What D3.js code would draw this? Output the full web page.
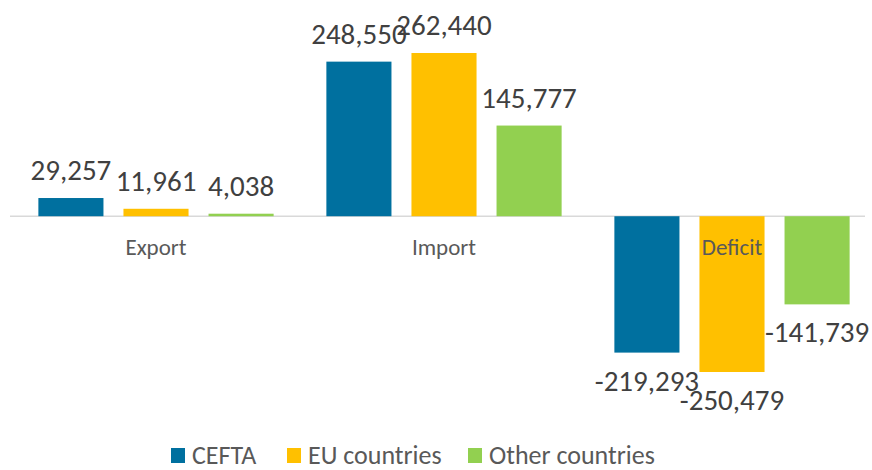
<!DOCTYPE html>
<html>
<head>
<meta charset="utf-8">
<script src="https://cdn.jsdelivr.net/npm/d3@7"></script>
<style>
  body { margin: 0; background: #fff; }
  svg text { font-family: Carlito, "Open Sans", sans-serif; }
</style>
</head>
<body>
<svg></svg>
<script>
const categories = ["Export", "Import", "Deficit"]
const seriesNames = ["CEFTA", "EU countries", "Other countries"]
const ceftaValues = [29257, 248550, -219293]
const euValues = [11961, 262440, -250479]
const otherValues = [4038, 145777, -141739]
const colors = ["#00709f", "#ffc000", "#92d050"]

const seriesValues = [ceftaValues, euValues, otherValues]
const rows = categories.map((c, i) => {
  return { category: c, values: seriesNames.map((s, j) => ({ series: s, value: seriesValues[j][i], color: colors[j] })) }
})

const svg = d3.select("svg")
  .attr("width", 872)
  .attr("height", 470)

const x0 = d3.scaleBand()
  .domain(categories)
  .range([12, 876])

const x1 = d3.scaleBand()
  .domain(seriesNames)
  .range([0, x0.bandwidth()])
  .paddingInner(0.235)
  .paddingOuter(0.31)

const y = d3.scaleLinear()
  .domain([-250479, 262440])
  .range([372, 53])

// zero line
svg.append("line")
  .attr("x1", 10)
  .attr("x2", 865)
  .attr("y1", y(0))
  .attr("y2", y(0))
  .attr("stroke", "#d9d9d9")
  .attr("stroke-width", 1.5)

const groups = svg.selectAll("g.group")
  .data(rows)
  .join("g")
  .attr("class", "group")
  .attr("transform", d => `translate(${x0(d.category)},0)`)

groups.selectAll("rect")
  .data(d => d.values)
  .join("rect")
  .attr("x", d => x1(d.series))
  .attr("width", x1.bandwidth())
  .attr("y", d => y(Math.max(0, d.value)))
  .attr("height", d => Math.abs(y(d.value) - y(0)))
  .attr("fill", d => d.color)

// category labels
svg.selectAll("text.cat")
  .data(categories)
  .join("text")
  .attr("class", "cat")
  .attr("x", d => x0(d) + x0.bandwidth() / 2)
  .attr("y", y(0) + 39)
  .attr("text-anchor", "middle")
  .attr("fill", "#595959")
  .attr("font-size", 23)
  .text(d => d)

const fmt = v => d3.format(",")(v).replace("\u2212", "-")

groups.selectAll("text.val")
  .data(d => d.values)
  .join("text")
  .attr("class", "val")
  .attr("x", d => x1(d.series) + x1.bandwidth() / 2)
  .attr("y", d => d.value >= 0 ? y(d.value) - 18 : y(d.value) + 38)
  .attr("text-anchor", "middle")
  .attr("fill", "#404040")
  .attr("font-size", 29)
  .text(d => fmt(d.value))

// legend
const legendX = [171, 287, 468]
const legend = svg.selectAll("g.legend")
  .data(seriesNames)
  .join("g")
  .attr("class", "legend")
  .attr("transform", (d, i) => `translate(${legendX[i]},448)`)

legend.append("rect")
  .attr("width", 14)
  .attr("height", 15)
  .attr("fill", (d, i) => colors[i])

legend.append("text")
  .attr("x", 21)
  .attr("y", 15.5)
  .attr("fill", "#595959")
  .attr("font-size", 26)
  .text(d => d)
</script>
</body>
</html>
